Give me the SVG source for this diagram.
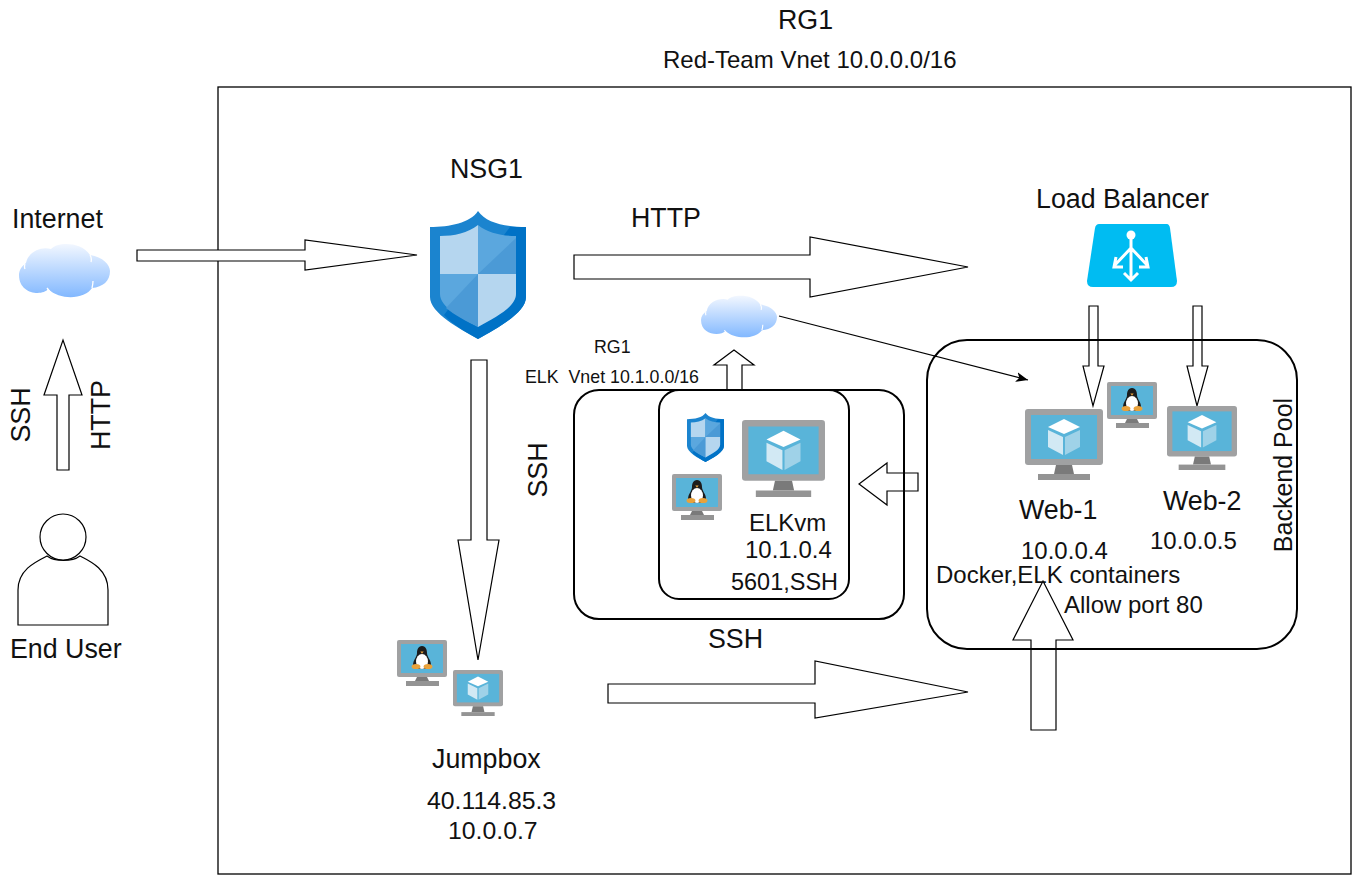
<svg xmlns="http://www.w3.org/2000/svg" xmlns:xlink="http://www.w3.org/1999/xlink" width="1352" height="875" viewBox="0 0 1352 875">
<style>
text{font-family:"Liberation Sans",Arial,sans-serif;fill:#111}
.l{font-size:26.8px}
.m{font-size:24px}
.j{font-size:24.8px}
.s{font-size:17.8px}
.box{fill:none;stroke:#000;stroke-width:2}
.frame{fill:none;stroke:#000;stroke-width:1.3}
.arrow{fill:#fff;stroke:#000;stroke-width:1.2}
.thin{fill:none;stroke:#000;stroke-width:1.1;marker-end:url(#head)}
.outline{fill:#fff;stroke:#000;stroke-width:1.2}
</style>
<defs>
<marker id="head" markerUnits="userSpaceOnUse" markerWidth="14" markerHeight="10" refX="12" refY="5" orient="auto"><path d="M0,0 L12,5 L0,10 L3,5Z" fill="#000"/></marker>
<linearGradient id="cg" x1="0" y1="0" x2="0" y2="1"><stop offset="0" stop-color="#f2f7ff"/><stop offset="1" stop-color="#82b8ff"/></linearGradient>
<symbol id="cloud" viewBox="0 0 91 55" preserveAspectRatio="none">
<path d="M7,20C9,9 22,3 32,6C38,-1 62,-2 71,12C84,14 91,22 91,28C91,38 84,44 73,45C66,56 42,58 29,46C24,53 0,52 0,32C0,27 3,23 7,20Z" fill="url(#cg)"/>
<path d="M28,45Q33,52 40,55M6,21Q5,24 6,26M71,12Q73,15 72,19M73,45Q74,41 74,38" fill="none" stroke="#fff" stroke-width="1.3"/>
</symbol>
<symbol id="shield" viewBox="0 0 96 128" preserveAspectRatio="none">
<path d="M48,0C40,12 20,16 0,16V86C0,102 30,118 48,128C66,118 96,102 96,86V16C76,16 56,12 48,0Z" fill="#1b84cf"/>
<path d="M80,16H96V86C96,102 66,118 48,128C38,122 24,115 14,104Z" fill="#0072c6"/>
<path d="M48,14C38,22 24,25 10,25V63H48Z" fill="#b5d6ef"/>
<path d="M48,14C58,22 72,25 86,25V63H48Z" fill="#5ba7de"/>
<path d="M86,27V63H48Z" fill="#4b9ad6"/>
<path d="M10,63V83C10,96 30,106 48,116V63Z" fill="#5ba7de"/>
<path d="M48,63L16,97C24,104 38,111 48,116Z" fill="#4b9ad6"/>
<path d="M86,63V83C86,96 66,106 48,116V63Z" fill="#b5d6ef"/>
</symbol>
<symbol id="vm" viewBox="0 0 78 71" preserveAspectRatio="none">
<rect width="78" height="56" rx="3" fill="#a0a1a2"/>
<rect x="6" y="6" width="66" height="44" fill="#59b4d9"/>
<path d="M31,56H47L49,65H29Z" fill="#7a7a7a"/>
<rect x="13" y="65" width="52" height="6" fill="#949494"/>
<path d="M39,10L55,18L39,25L23,18Z" fill="#fff"/>
<path d="M23,21L38,28V46L23,38Z" fill="#d2e9f4"/>
<path d="M55,21L40,28V46L55,38Z" fill="#9fd2e8"/>
</symbol>
<symbol id="linux" viewBox="0 0 50 46" preserveAspectRatio="none">
<rect width="50" height="37" rx="2" fill="#a0a1a2"/>
<rect x="4" y="4" width="42" height="29" fill="#59b4d9"/>
<path d="M20,37H30L32,41H18Z" fill="#7a7a7a"/>
<rect x="9" y="41" width="33" height="5" fill="#949494"/>
<path d="M25,6C21,6 20,10 20,13C20,17 16,20 16,25C16,28 20,29 25,29C30,29 34,28 34,25C34,20 30,17 30,13C30,10 29,6 25,6Z" fill="#1c1c1c"/>
<ellipse cx="25" cy="21.5" rx="6" ry="7.5" fill="#fff"/>
<ellipse cx="19" cy="26.5" rx="4.4" ry="2.6" fill="#e9a23b"/>
<ellipse cx="31" cy="26.5" rx="4.4" ry="2.6" fill="#e9a23b"/>
<path d="M23.3,11.5H26.7L25,13.8Z" fill="#e9a23b"/>
</symbol>
</defs>

<g id="rg1-boundary"><rect class="frame" x="218" y="87" width="1133" height="787"/></g>

<g id="connectors">
<path class="arrow" d="M137,250H305V240L417,255L305,270V261H137Z"/>
<path class="arrow" d="M574,255H810V237L968,267L810,297V279H574Z"/>
<path class="arrow" d="M471,360H487V540H499L478,660L458,540H471Z"/>
<path class="arrow" d="M608,684H815V661L968,692L815,718V703H608Z"/>
<path class="arrow" d="M1031,730V640H1013L1043,581L1073,640H1056V730Z"/>
<path class="arrow" d="M57,470V395H44L63,340L82,395H69V470Z"/>
<path class="arrow" d="M918,473H887V463L859,484L887,505V491H918Z"/>
<path class="arrow" d="M727,390V365H714L734,350L754,365H742V390Z"/>
<path class="arrow" d="M1089,306H1098V366H1104L1093,406L1083,366H1089Z"/>
<path class="arrow" d="M1193,306H1202V366H1208L1197,406L1187,366H1193Z"/>
<path class="thin" d="M779,316L1028,380"/>
</g>

<g id="rg1-label">
<text class="l" x="778" y="29">RG1</text>
<text class="m" x="663" y="68">Red-Team Vnet 10.0.0.0/16</text>
</g>

<g id="internet">
<use href="#cloud" x="19" y="243" width="91" height="55"/>
<text class="l" x="12" y="228">Internet</text>
</g>

<g id="end-user">
<circle class="outline" cx="63" cy="537" r="23"/>
<path class="outline" d="M18,625V590C18,570 35,562 47,556C55,562 72,562 80,556C92,562 108,570 108,590V625Z"/>
<text class="l" x="10" y="658">End User</text>
</g>

<g id="user-labels">
<text class="l" transform="translate(30,415) rotate(-90)" text-anchor="middle">SSH</text>
<text class="l" transform="translate(110,415) rotate(-90)" text-anchor="middle">HTTP</text>
</g>

<g id="nsg1">
<use href="#shield" x="430" y="211" width="96" height="128"/>
<text class="l" x="450" y="178">NSG1</text>
</g>

<g id="http-label"><text class="l" x="631" y="227">HTTP</text></g>

<g id="load-balancer">
<path d="M1099,224H1167Q1169,224 1170,228L1177,281Q1177,287 1171,287H1093Q1087,287 1087,281L1095,228Q1096,224 1099,224Z" fill="#00bcf2"/>
<path d="M1131,238V279M1131,248L1114,266M1131,248L1148,266M1124,273L1131,280L1138,273M1116,257L1114,267H1123M1146,257L1148,267H1139" fill="none" stroke="#fff" stroke-width="3"/>
<circle cx="1131" cy="235" r="4.5" fill="#fff"/>
<text class="l" x="1036" y="208">Load Balancer</text>
</g>

<g id="elk-cloud"><use href="#cloud" x="701" y="295" width="76" height="43"/></g>

<g id="elk-vnet">
<rect class="box" x="574" y="390" width="330" height="229" rx="25"/>
<text class="s" x="594" y="353">RG1</text>
<text class="s" x="525" y="383" xml:space="preserve">ELK  Vnet 10.1.0.0/16</text>
<text class="l" transform="translate(547,470) rotate(-90)" text-anchor="middle">SSH</text>
<text class="l" x="708" y="648">SSH</text>
</g>

<g id="elk-vm">
<rect class="box" x="659" y="390" width="190" height="209" rx="20"/>
<use href="#shield" x="687" y="413" width="37" height="49"/>
<use href="#linux" x="672" y="474" width="50" height="46"/>
<use href="#vm" x="742" y="420" width="83" height="77"/>
<text class="m" x="749" y="531">ELKvm</text>
<text class="m" x="745" y="558">10.1.0.4</text>
<text class="m" x="731" y="590" textLength="107" lengthAdjust="spacingAndGlyphs">5601,SSH</text>
</g>

<g id="backend-pool">
<rect class="box" x="927" y="340" width="370" height="309" rx="40"/>
<text class="m" style="font-size:25px" transform="translate(1292,475) rotate(-90)" text-anchor="middle">Backend Pool</text>
<text class="m" x="936" y="583">Docker,ELK containers</text>
<text class="m" x="1064" y="613">Allow port 80</text>
</g>

<g id="web-1">
<use href="#vm" x="1025" y="409" width="78" height="71"/>
<text class="l" x="1019" y="519">Web-1</text>
<text class="m" x="1021" y="559">10.0.0.4</text>
</g>
<g id="web-linux"><use href="#linux" x="1107" y="382" width="50" height="46"/></g>
<g id="web-2">
<use href="#vm" x="1167" y="406" width="70" height="64"/>
<text class="l" x="1163" y="510">Web-2</text>
<text class="m" x="1150" y="549">10.0.0.5</text>
</g>

<g id="jumpbox">
<use href="#linux" x="397" y="640" width="50" height="46"/>
<use href="#vm" x="453" y="670" width="50" height="46"/>
<text class="l" x="432" y="768">Jumpbox</text>
<text class="j" x="427" y="809">40.114.85.3</text>
<text class="j" x="448" y="839">10.0.0.7</text>
</g>
</svg>
